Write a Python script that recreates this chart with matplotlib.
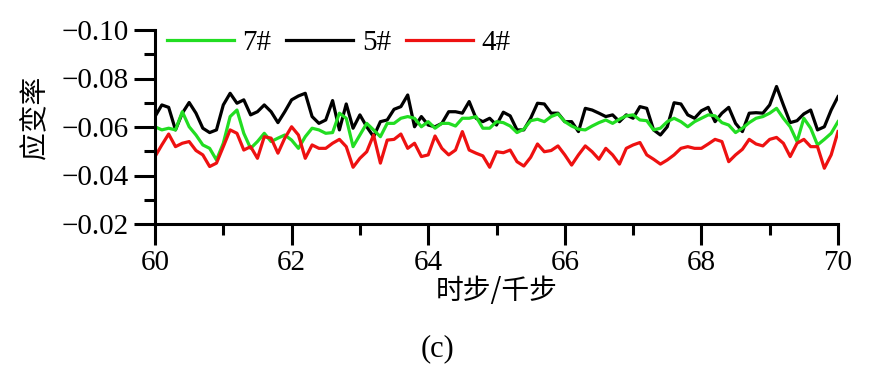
import numpy as np
import matplotlib
matplotlib.use("Agg")
import matplotlib.pyplot as plt
from matplotlib.ticker import MultipleLocator

plt.rcParams['font.family'] = ['Liberation Serif', 'Noto Sans CJK SC']
plt.rcParams['axes.unicode_minus'] = True

# time steps (thousand steps), sampled every 0.1
steps = np.linspace(60, 70, 101)

# 5# (black)
strain_5 = [
    -0.0643, -0.0691, -0.0681, -0.0588, -0.0657, -0.0701, -0.0657, -0.0595, -0.0577, -0.0588,
    -0.0691, -0.0739, -0.0698, -0.0712, -0.0650, -0.0663, -0.0691, -0.0663, -0.0618, -0.0663,
    -0.0712, -0.0728, -0.0739, -0.0643, -0.0615,
    -0.0629, -0.0709, -0.0588, -0.0695, -0.0595, -0.0650, -0.0601, -0.0560, -0.0622, -0.0629,
    -0.0673, -0.0684, -0.0732, -0.0601, -0.0643, -0.0608, -0.0601, -0.0615, -0.0663, -0.0663,
    -0.0657, -0.0705, -0.0636, -0.0622, -0.0636,
    -0.0608, -0.0661, -0.0646, -0.0588, -0.0588, -0.0636, -0.0698, -0.0695, -0.0657, -0.0657,
    -0.0622, -0.0622, -0.0581, -0.0677, -0.0670, -0.0657, -0.0643, -0.0650, -0.0622, -0.0650,
    -0.0636, -0.0684, -0.0677, -0.0588, -0.0567,
    -0.0601, -0.0700, -0.0695, -0.0650, -0.0636, -0.0667, -0.0681, -0.0622, -0.0657, -0.0681,
    -0.0615, -0.0581, -0.0657, -0.0659, -0.0657, -0.0691, -0.0767, -0.0691, -0.0618, -0.0626,
    -0.0654, -0.0670, -0.0588, -0.0601, -0.0670, -0.0725,
]

# 7# (green)
strain_7 = [
    -0.0601, -0.0588, -0.0595, -0.0588, -0.0663, -0.0601, -0.0567, -0.0526, -0.0512, -0.0464,
    -0.0533, -0.0643, -0.0670, -0.0574, -0.0512, -0.0540, -0.0574, -0.0540, -0.0554, -0.0567,
    -0.0546, -0.0512, -0.0560, -0.0595, -0.0588,
    -0.0574, -0.0577, -0.0657, -0.0636, -0.0519, -0.0567, -0.0615, -0.0588, -0.0560, -0.0615,
    -0.0615, -0.0636, -0.0643, -0.0636, -0.0601, -0.0622, -0.0595, -0.0615, -0.0615, -0.0604,
    -0.0636, -0.0636, -0.0643, -0.0595, -0.0595,
    -0.0622, -0.0618, -0.0604, -0.0577, -0.0591, -0.0626, -0.0632, -0.0622, -0.0643, -0.0654,
    -0.0622, -0.0604, -0.0591, -0.0588, -0.0604, -0.0618, -0.0629, -0.0615, -0.0632, -0.0646,
    -0.0650, -0.0629, -0.0626, -0.0588, -0.0595,
    -0.0622, -0.0636, -0.0622, -0.0601, -0.0622, -0.0636, -0.0650, -0.0646, -0.0618, -0.0608,
    -0.0577, -0.0595, -0.0618, -0.0636, -0.0643, -0.0657, -0.0677, -0.0636, -0.0601, -0.0540,
    -0.0636, -0.0595, -0.0526, -0.0549, -0.0574, -0.0622,
]

# 4# (red)
strain_4 = [
    -0.0478, -0.0526, -0.0571, -0.0519, -0.0533, -0.0540, -0.0503, -0.0485, -0.0437, -0.0451,
    -0.0519, -0.0588, -0.0574, -0.0505, -0.0519, -0.0471, -0.0560, -0.0554, -0.0492, -0.0554,
    -0.0601, -0.0567, -0.0471, -0.0526, -0.0512,
    -0.0512, -0.0533, -0.0549, -0.0519, -0.0434, -0.0471, -0.0498, -0.0567, -0.0451, -0.0546,
    -0.0549, -0.0571, -0.0512, -0.0533, -0.0478, -0.0485, -0.0563, -0.0512, -0.0485, -0.0505,
    -0.0581, -0.0505, -0.0492, -0.0481, -0.0434,
    -0.0498, -0.0494, -0.0505, -0.0457, -0.0439, -0.0475, -0.0530, -0.0498, -0.0503, -0.0522,
    -0.0485, -0.0443, -0.0485, -0.0522, -0.0498, -0.0467, -0.0512, -0.0485, -0.0447, -0.0512,
    -0.0526, -0.0536, -0.0485, -0.0467, -0.0447,
    -0.0464, -0.0485, -0.0512, -0.0519, -0.0512, -0.0512, -0.0530, -0.0549, -0.0540, -0.0457,
    -0.0485, -0.0508, -0.0549, -0.0530, -0.0522, -0.0549, -0.0557, -0.0533, -0.0478, -0.0533,
    -0.0549, -0.0519, -0.0519, -0.0430, -0.0485, -0.0581,
]

fig = plt.figure(figsize=(8.84, 3.86), dpi=100)
ax = fig.add_axes([155 / 884, 1 - 224 / 386, 683 / 884, 194 / 386])

l5, = ax.plot(steps, strain_5, color='black', lw=2.3, label='5#')
l7, = ax.plot(steps, strain_7, color='#22dd22', lw=2.3, label='7#')
l4, = ax.plot(steps, strain_4, color='#ee1111', lw=2.3, label='4#')

ax.set_xlim(60, 70)
ax.set_ylim(-0.02, -0.10)
ax.xaxis.set_major_locator(MultipleLocator(2))
ax.xaxis.set_minor_locator(MultipleLocator(1))
ax.yaxis.set_major_locator(MultipleLocator(0.02))
ax.yaxis.set_minor_locator(MultipleLocator(0.01))
ax.yaxis.set_major_formatter(plt.FuncFormatter(lambda v, p: "\u2212%.2f" % abs(v)))

for s in ['top', 'right']:
    ax.spines[s].set_visible(False)
for s in ['left', 'bottom']:
    ax.spines[s].set_linewidth(2.2)

ax.tick_params(which='major', direction='out', length=15, width=2.2, labelsize=21, pad=4)
ax.tick_params(which='minor', direction='out', length=8, width=2.2)

ax.set_xlabel("时步/千步", fontsize=20, family=['Noto Sans CJK SC'], labelpad=0)
ax.set_ylabel("应变率", fontsize=20, family=['Noto Sans CJK SC'])
ax.yaxis.set_label_coords(-0.154, 0.55)

ax.legend(handles=[l7, l5, l4], loc='upper left', bbox_to_anchor=(0.0, 1.06), ncol=3,
          frameon=False, fontsize=21, handlelength=2.3, handletextpad=0.3,
          columnspacing=0.5, borderaxespad=0)

fig.text(437 / 884, 1 - 349 / 386, "(c)", ha='center', va='center', fontsize=22)

fig.savefig("out.png", dpi=100)
